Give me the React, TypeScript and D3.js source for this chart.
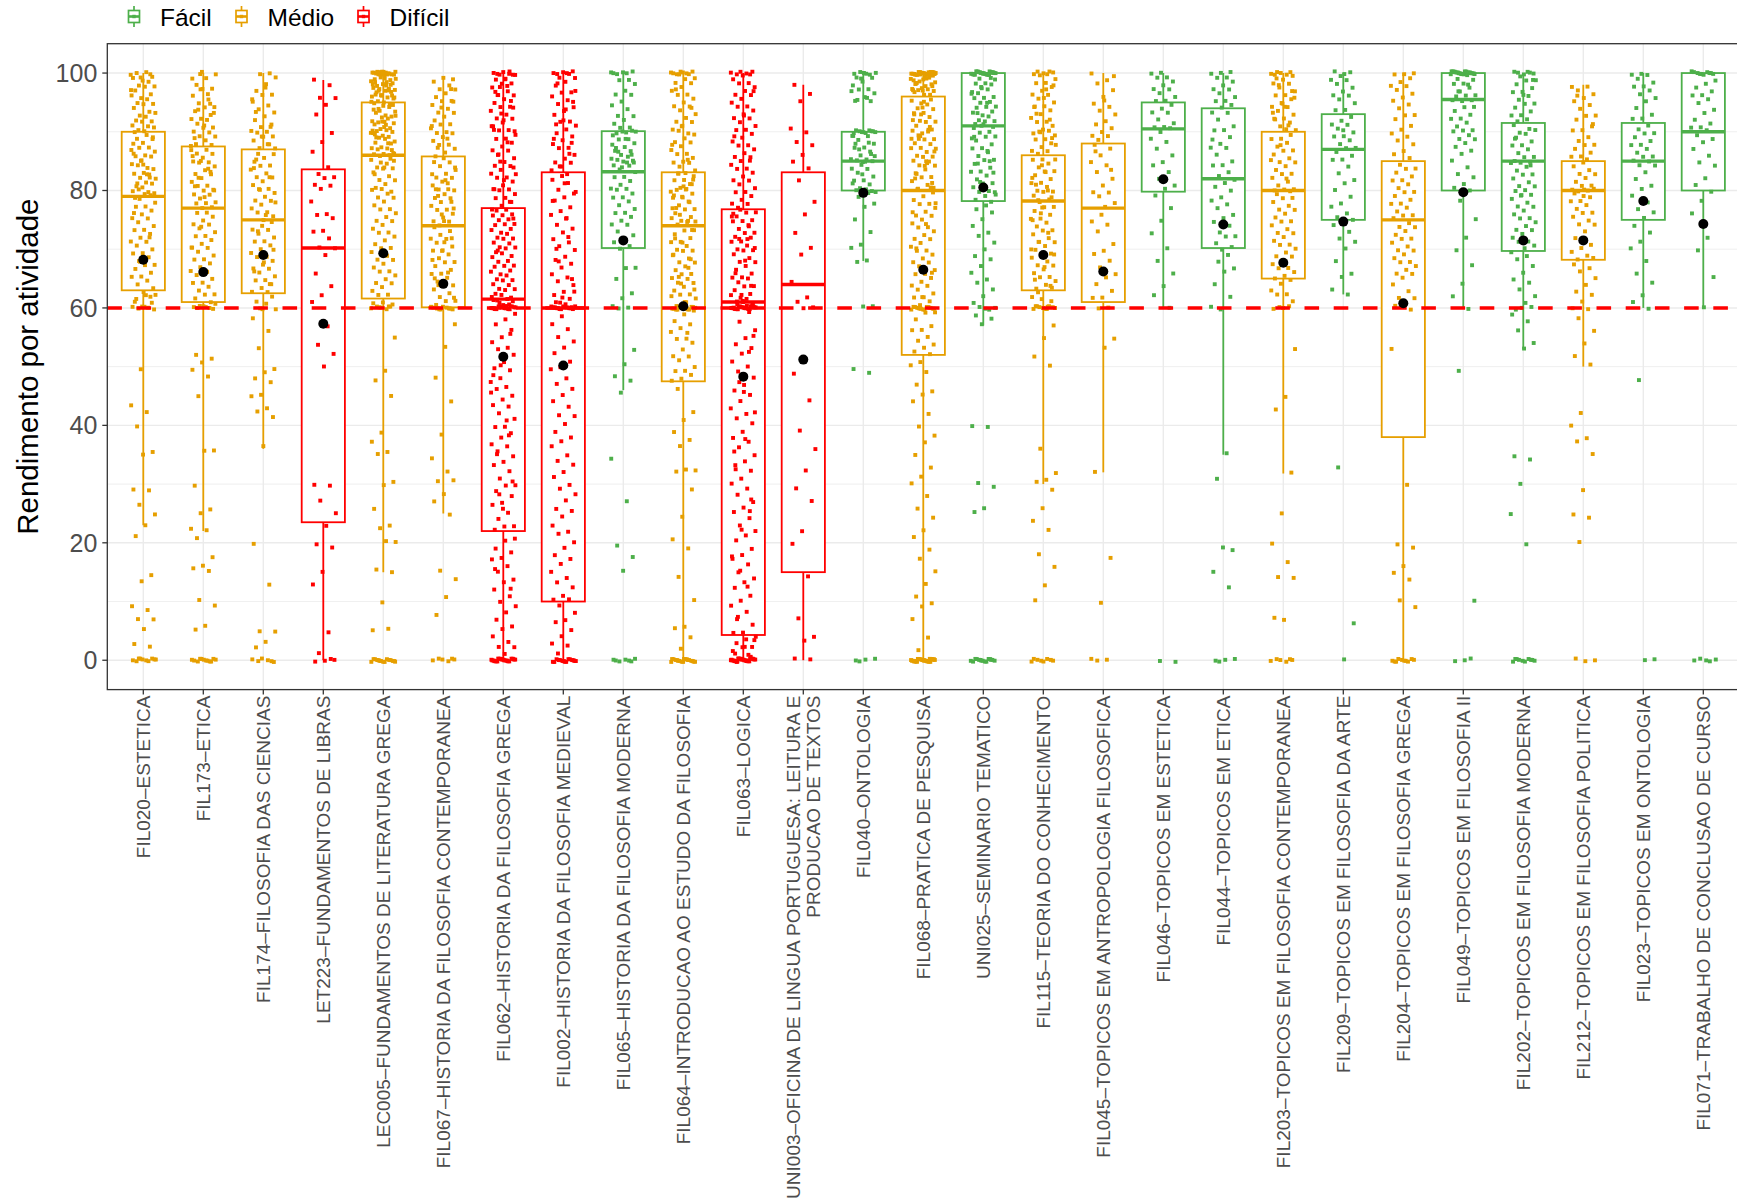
import React from "react";
import * as d3 from "d3";

const categories = [
  "FIL020–ESTETICA",
  "FIL173–ETICA",
  "FIL174–FILOSOFIA DAS CIENCIAS",
  "LET223–FUNDAMENTOS DE LIBRAS",
  "LEC005–FUNDAMENTOS DE LITERATURA GREGA",
  "FIL067–HISTORIA DA FILOSOFIA CONTEMPORANEA",
  "FIL062–HISTORIA DA FILOSOFIA GREGA",
  "FIL002–HISTORIA DA FILOSOFIA MEDIEVAL",
  "FIL065–HISTORIA DA FILOSOFIA MODERNA",
  "FIL064–INTRODUCAO AO ESTUDO DA FILOSOFIA",
  "FIL063–LOGICA",
  "UNI003–OFICINA DE LINGUA PORTUGUESA: LEITURA E\nPRODUCAO DE TEXTOS",
  "FIL040–ONTOLOGIA",
  "FIL068–PRATICA DE PESQUISA",
  "UNI025–SEMINARIO TEMATICO",
  "FIL115–TEORIA DO CONHECIMENTO",
  "FIL045–TOPICOS EM ANTROPOLOGIA FILOSOFICA",
  "FIL046–TOPICOS EM ESTETICA",
  "FIL044–TOPICOS EM ETICA",
  "FIL203–TOPICOS EM FILOSOFIA CONTEMPORANEA",
  "FIL209–TOPICOS EM FILOSOFIA DA ARTE",
  "FIL204–TOPICOS EM FILOSOFIA GREGA",
  "FIL049–TOPICOS EM FILOSOFIA II",
  "FIL202–TOPICOS EM FILOSOFIA MODERNA",
  "FIL212–TOPICOS EM FILOSOFIA POLITICA",
  "FIL023–TOPICOS EM ONTOLOGIA",
  "FIL071–TRABALHO DE CONCLUSAO DE CURSO",
];

const difficulty = [
  "Médio", "Médio", "Médio", "Difícil", "Médio", "Médio", "Difícil", "Difícil", "Fácil",
  "Médio", "Difícil", "Difícil", "Fácil", "Médio", "Fácil", "Médio", "Médio", "Fácil",
  "Fácil", "Médio", "Fácil", "Médio", "Fácil", "Fácil", "Médio", "Fácil", "Fácil",
];

const levels = ["Fácil", "Médio", "Difícil"];
const levelColors = ["#4DAF4A", "#E69F00", "#FF0000"];

const q3 = [90, 87.5, 87, 83.6, 95, 85.8, 77, 83.1, 90.1, 83.1, 76.8, 83.1, 90, 96, 100, 86, 88, 95, 94, 90, 93, 85, 100, 91.5, 85, 91.5, 100];
const medians = [79, 77, 75, 70.2, 86, 74, 61.5, 60, 83.2, 74, 61, 64, 85, 80, 91, 78.2, 77, 90.5, 82, 80, 87, 75, 95.5, 85, 80, 85, 90];
const q1 = [63, 61, 62.5, 23.5, 61.6, 60.1, 22, 10, 70.2, 47.5, 4.3, 15, 80, 52, 78.2, 63, 61, 79.8, 70.2, 65, 75, 38, 80, 69.7, 68.2, 75, 80];
const whiskerLow = [23, 22, 36, 0, 15, 25, 0, 0, 46, 0, 0, 0, 68, 0, 57, 30, 32, 60, 35, 31.8, 62.3, 0, 60, 53, 50, 60, 60];
const whiskerHigh = [100, 100, 100, 98.8, 100, 99, 100, 100, 100, 100, 100, 98, 100, 100, 100, 100, 100, 100, 100, 100, 100, 100, 100, 100, 98, 100, 100];
const means = [68.2, 66.1, 69, 57.3, 69.3, 64.1, 51.7, 50.2, 71.5, 60.3, 48.3, 51.2, 79.6, 66.5, 80.5, 69, 66.2, 81.9, 74.2, 67.7, 74.7, 60.8, 79.7, 71.5, 71.5, 78.2, 74.3];

const yTicks = [0, 20, 40, 60, 80, 100];
const yMinor = [10, 30, 50, 70, 90];
const threshold = 60;

const pFIL020 = [100,100,100,99.5,99,99,98.5,98,98,97.5,97,96.5,96,96,95.5,95,95,94.5,94,93.5,93,93,92.5,92,92,91.5,91,91,90.5,90.5,90,90,100,99,97,
89.5,89,88.5,88,88,87.5,87,86.5,86,86,85.5,85,84.5,84,84,83.5,83,83,82.5,82,82,81.5,81,81,80.5,80,80,80,79.5,79.5,79,79,85,87,83,81,89,84.5,86.5,82.5,
78.5,78,77.5,77,76.5,76,75.5,75,74.5,74,73.5,73,72.5,72,71.5,71,70.5,70,69.5,69,68.5,68,67.5,67,66.5,66,65.5,65,64.5,64,63.5,63,76,72,68,
62.5,62,61.5,61,60.5,60,60,60,60,60,61,62,
49.8,43.2,42.2,39.9,35.7,34.8,29,29,26.7,24.6,22.9,21.2,14.7,13.2,9.1,8.6,7.2,6.7,5.2,2.8,2.5,0,0,0,0,0,0,0,0,0,0];

const pFIL173 = [100,99.5,99,98,97.5,97,96,95.5,95,94.5,94,93.5,93,92.5,92,92,91.5,91,90.5,90,90,89.5,89,88.5,88,88,100,99,96.5,94,93,91,89,95,97,
87.5,87,86.5,86,85.5,85,85,84.5,84,83.5,83,82.5,82,81.5,81,80.5,80,80,79.5,79,78.5,78,78,77.5,77,77,86,84,82,80,79,81,83,85,87,
76.5,76,75.5,75,74.5,74,73.5,73,72.5,72,71.5,71,70.5,70,69.5,69,68.5,68,67.5,67,66.5,66,65.5,65,64.5,64,63.5,63,62.5,62,61.5,61,74,70,66,
60,60,60,60,60,60.5,61,60,
52,51.5,51,49.3,48.3,45.1,36,35.5,29.7,25.8,25.3,22.2,22.1,20.9,17.8,15.9,15.6,15.3,10.5,9.1,5.8,5.3,0,0,0,0,0,0,0,0,0,0,0,0];

const pFIL174 = [100,100,99,98,97,96.5,96,95,94.5,94,93,92.5,92,91,90.5,90,90,90,89.5,89,88.5,88,87.5,87,97.5,93.5,91.5,89,95.5,88,
86.5,86,85.5,85,84.5,84,83.5,83,82.5,82,81.5,81,80.5,80,79.5,79,78.5,78,77.5,77,76.5,76,75.5,75,84,82,80,78,76,85,
74.5,74,73.5,73,72.5,72,71.5,71,70.5,70,69.5,69,68.5,68,67.5,67,66.5,66,65.5,65,64.5,64,63.5,63,62.5,73,70,68,66,64,
60,60,60.5,61,62,60,
58,56,53.2,49.8,48.8,47.9,47.4,45.4,44.7,42.8,42.4,41.6,36.2,19.7,12.9,5.1,4.6,3,2.2,0,0,0,0,0,0];

const pLET223 = [98.8,98,96,95.5,94.5,93,90,88,86.5,84,83,82,82,81,81,80,78,76,76,75,73,73,72,70,70,69,66,64,62,61,57,54,52,50,30,30,27,25,23,20,19,15,13,5,1,0,0,0,0];

const pLEC005 = [100,100,100,100,100,100,100,100,100,100,100,100,99.5,99.5,99,99,99,98.5,98.5,98,98,98,97.5,97.5,97,97,97,96.5,96.5,96,96,96,95.5,95.5,95,95,95,100,99,98,97,96,99.8,98.2,97.3,96.8,95.8,99.2,98.7,97.8,96.2,95.2,100,100,
94.5,94.5,94,94,93.5,93.5,93,93,92.5,92.5,92,92,91.5,91.5,91,91,90.5,90.5,90,90,90,90,89.5,89.5,89,89,88.5,88.5,88,88,87.5,87.5,87,87,86.5,86.5,86,86,86,93,91,89,87,92,90,88,94,86.5,91.5,89.5,
85.5,85,85,84.5,84,84,83.5,83,82.5,82,81.5,81,80.5,80,80,80,79.5,79,78.5,78,77.5,77,76.5,76,75.5,75,74.5,74,73.5,73,72.5,72,71.5,71,70.5,70,69.5,69,68.5,68,67.5,67,66.5,66,65.5,65,64.5,64,63.5,63,62.5,62,85,84,83,
60,60,60,60,60,60.5,61,61,60,60,
55,49.5,47.4,44.9,38.8,37.4,35.2,35,30.4,30,25.5,22.8,22.5,20.3,20,15.3,15,10,5.4,5.2,0,0,0,0,0,0,0,0,0,0,0,0,0,0,0];

const pFIL067 = [99.2,99,98.5,98,97.5,97,96.5,96,95.5,95,94.5,94,93.5,93,92.5,92,91.5,91,90.5,90,90,89.5,89,88.5,88,87.5,87,86.5,86,97,94,91,89,87,95,
85.5,85,84.5,84,83.5,83,82.5,82,81.5,81,80.5,80,80,79.5,79,78.5,78,77.5,77,76.5,76,75.5,75,74.5,74,84,82,80,78,76,83,81,79,77,75,
73.5,73,72.5,72,71.5,71,70.5,70,69.5,69,68.5,68,67.5,67,66.5,66,65.5,65,64.5,64,63.5,63,62.5,62,61.5,61,60.5,72,70,68,66,64,62,71,65,
60,60,60,60,60,60,60,60,60,60,
57,53.3,48.2,44.3,38.2,34.3,32.2,30.7,30.4,28.2,27.1,25,15,13.7,10.8,7.9,0,0,0,0,0,0];

const pFIL062 = [100,100,100,100,100,100,99.5,99,99,98.5,98,97.5,97,96.5,96,95.5,95,94.5,94,93.5,93,92.5,92,91.5,91,90.5,90,90,99,97,95,93,91,98,96,94,92,90.5,100,97.5,
89.5,89,88.5,88,87.5,87,86.5,86,85.5,85,84.5,84,83.5,83,82.5,82,81.5,81,80.5,80,80,79.5,79,78.5,78,77.5,77,88,86,84,82,80,78,85,83,
76.5,76.5,76,76,75.5,75,75,74.5,74,74,73.5,73,73,72.5,72,72,71.5,71,71,70.5,70,70,69.5,69,69,68.5,68,68,67.5,67,67,66.5,66,66,65.5,65,65,64.5,64,64,63.5,63,63,62.5,62,62,61.8,61.6,70,75,
60,60,60,60,60,60,60,60,60,60,60,60,60,60,60,60,60,60,60.5,61,61,60.5,61.5,60.3,60.7,
59,58.2,57.5,56.1,55,54.3,53.5,52.8,52,50.9,50,49.2,48,47.5,46.8,46,45,44.5,43.7,43,42,41.2,40,39.5,38.6,38,37,36.2,35.5,34.8,34,33,32.1,31,30,29.5,28.7,28,27,26.2,25,24.1,23,22.5,22.1,55.6,50.4,45.3,40.7,35.1,30.6,25.5,48.4,38.3,28.4,
21,20.2,19,18.5,17.7,17,16,15.2,14,13.1,12,11,10.2,9,8.1,7,6,5.1,4,3.2,2.5,2,1,15.6,12.4,
0,0,0,0,0,0,0,0,0,0,0,0,0,0,0,0,0,0,0,0];

const pFIL002 = [100,100,100,100,100,100,99.5,99,98.5,98,97,96.5,96,95.5,95,94,93.5,93,92,91.5,91,90.5,90,89,88.5,88,87.5,87,86,85.5,85,84.5,84,83.5,83,98,95,92,89,86,84,97,94,91,88,
82.5,82,81,80,79.5,79,78,77,76.5,76,75,74,73.5,73,72,71,70.5,70,69,68,67.5,67,66,65,64.5,64,63,62,61.5,61,80,75,70,65,62,78,72,68,63,81,
60,60,60,60,60,60,60,60,60,60,60,60,60.5,61,60.3,
58.3,57.1,56.4,55.2,54,53.1,52.3,51,50.2,49.4,48,47.2,46.5,45,44.1,43.3,42,41.4,40.2,39,38.2,37.1,36.4,35,34.2,33.1,32,31.3,30.1,29,28.2,27.3,26,25.2,24.4,23,22.1,21.3,20,19.2,18.1,17,16.3,15.1,14.2,13,12.3,11,10.5,10.1,
9.2,8.1,7,6.2,5,4.1,3,2.2,1,
0,0,0,0,0,0,0,0,0,0,0,0,0,0,0];

const pFIL065 = [100,100,100,100,100,100,99,98.5,98,97,96.5,96,95,94.5,94,93,92.5,92,91.5,91,90.5,90,90,90,90,90,
89.5,89,88.5,88,87.5,87,86.5,86,85.5,85,85,85,85,84.5,84,83.5,83.2,89,87,86,84,88,85.5,86.5,84.8,
82.5,82,81.5,81,80.5,80,80,79.5,79,78.5,78,77.5,77,76.5,76,75.5,75,74.5,74,73,72.5,72,71,70.5,70.2,
67.1,66.6,64.9,62.6,61.9,60.1,60,60,
53.1,50.2,48.3,47.7,45.8,34.1,27,19.6,17.8,15,0,0,0,0,0,0,0];

const pFIL064 = [100,100,100,100,100,100,100,100,99.5,99,99,98.5,98,97.5,97,96.5,96,95.5,95,94.5,94,93.5,93,92.5,92,91.5,91,90.5,90,90,89.5,89,88.5,88,87.5,87,86.5,86,85.5,85,85,84.5,84,83.5,83.2,97,94,91,88,85,
82.8,82.5,82,81.5,81,80.5,80,80,80,79.5,79,78.5,78,77.5,77,76.5,76,75.5,75,75,74.5,74.2,82,81,79,78,76,75,80,77,81.2,79.2,76.8,74.8,83,
73.5,73,72.5,72,71.5,71,70.5,70,70,69.5,69,68.5,68,67.5,67,66.5,66,65.5,65,65,64.5,64,63.5,63,62.5,62,61.5,61,60.5,73,71,69,67,65,63,61,72,68,64,62,
60,60,60,60,60,60,60,60,60,60,60,60,60,60,60,
59.5,59,58,57,56.5,56,55,54.5,54,53,52,51.5,51,50,49.5,49,48.5,48,47.8,55.5,
46.1,42.3,41.1,38.6,37.4,36.5,32.5,32.2,32,29.1,24.6,20.3,18.9,14.2,10.4,6,5.3,3.9,2.1,0,0,0,0,0,0,0,0,0,0,0,0,0,0,0,0,0,0];

const pFIL063 = [100,100,100,100,100,100,99.5,99,98.5,98,97.5,97,96.5,96,95.5,95,94.5,94,93.5,93,92.5,92,91.5,91,90.5,90,89.5,89,88.5,88,87.5,87,86.5,86,85.5,85,84.5,84,83.5,83,82.5,82,81.5,81,80.5,80,79.5,79,78.5,78,77.5,77,97,93,89,85,
76.8,76.5,76,75.5,75,75,74.5,74,73.5,73,72.5,72,72,71.5,71,70.5,70,70,69.5,69,68.5,68,67.5,67,66.5,66,65.5,65,65,64.5,64,63.5,63,62.5,62,62,61.5,61.2,61,61,76,74,72,70,68,66,64,62,75.5,71.8,
60,60,60,60,60,60,60,60,60,60,60,60,60,60,60,60,60,60,60,60,60.5,60.3,60.7,61,60.2,
59,57.5,56.2,55,54.1,53,52.2,51,50.3,49,48.1,47,46.2,45,44.1,43,42.2,41,40.3,39,38.1,37,36.2,35,34.1,33,32.2,31,30.3,29,28.1,27,26.2,25,24.1,23,22.2,21,20.3,19,18.1,17,16.2,15,14.1,13,12.2,11,10.3,9,8.1,7,6.2,5,4.5,52.5,47.5,42.5,37.5,32.5,27.5,22.5,17.5,12.5,7.5,55.5,45.5,35.5,25.5,15.5,
3.8,3.5,3,2.5,2,1.5,1,0.5,3.2,2.2,1.2,0.8,
0,0,0,0,0,0,0,0,0,0,0,0,0,0,0,0,0,0,0,0,0,0,0,0,0];

const pUNI003 = [98.1,96.7,95,90.5,90,88.5,87.5,86,85,84,81.5,78,76,73,70,69,64.5,62,60.8,60,60,49,44,39,36,32.5,29,27,22,20,14,7,4,3.5,0,0];

const pFIL040 = [100,100,100,100,100,100,99.5,99,98.5,98,97.5,97,96.5,96,95.5,95,99,97,96,95.2,
90,90,90,90,90,90,90,90,90,90,89.5,89,88.5,88,87.5,87,86.5,86,85.5,85,85,85,85,89,88,87,86,85.2,87.8,86.2,
84.5,84,83.5,83,82.5,82,81.5,81,80.5,80,80,80,80,83,81,
79.5,79,78,77,75,73,71,70,68,67.9,
60.5,60,49.5,49,0,0,0,0];

const pFIL068 = [100,100,100,100,100,100,100,100,100,100,100,100,100,100,100,100,100,100,100,100,99.5,99.5,99,99,99,98.5,98.5,98,98,98,97.5,97.5,97,97,97,96.5,96.5,96.2,99.8,99.2,98.8,98.2,97.8,97.2,96.8,100,100,100,99,98,
95.5,95,95,94.5,94,94,93.5,93,92.5,92,92,91.5,91,90.5,90,90,90,89.5,89,88.5,88,88,87.5,87,86.5,86,86,85.5,85,85,84.5,84,83.5,83,82.5,82,81.5,81,80.5,80.2,95,93,91,89,87,85,83,81,94,92,90.5,88.5,86.5,84.2,82.2,80.8,92.8,88.8,84.8,80.5,
79.5,79,78.5,78,77.5,77,76.5,76,75.5,75,74.5,74,73.5,73,72.5,72,71.5,71,70.5,70,69.5,69,68.5,68,67.5,67,66.5,66,65.5,65,64.5,64,63.5,63,62.5,62,61.5,61,60.5,78,74,70,66,62,76,
60,60,60,60,60,60,60,60,60,60,60,60,60,60,60,
59.5,59,58,57,56.5,56,55,54.5,54,53,52.5,52.2,
51,50,49,47,46,45,44,42,40,38,37,35,33,31,30,28,26,24,22,21,19,17,15,13,11,10,9,7,4,2,
0,0,0,0,0,0,0,0,0,0,0,0,0,0,0,0,0,0,0,0,0,0,0,0,0];

const pUNI025 = [100,100,100,100,100,100,100,100,100,100,100,100,100,100,100,100,100,100,100,100,100,100,100,100,100,99.5,99,99,98.5,98,98,97.5,97,97,96.5,96,96,95.5,95,95,94.5,94,94,93.5,93,93,92.5,92,92,91.5,91.2,99.2,97.8,96.2,94.8,93.2,
91,91,90.5,90,90,89.5,89,88.5,88,87.5,87,86.5,86,85.5,85,84.5,84,83.5,83,82.5,82,81.5,81,80.5,80,80,79.5,79,78.5,78.3,90.8,88.8,86.8,84.8,82.8,80.8,89.2,85.2,81.2,79.2,
77.5,77,76,75,74,73,72,71,70,69,68,67,66,65,64,63,62,61,60,60,60,60,59,58,57.2,
40,40,30,29.5,26,25.5,0,0,0,0,0,0,0,0,0,0,0,0,0,0,0];

const pFIL115 = [100,100,100,100,100,100,99.5,99,98.5,98,97.5,97,96.5,96,95.5,95,94.5,94,93.5,93,92.5,92,91.5,91,90.5,90,90,90,89.5,89,88.5,88,87.5,87,86.5,86.2,98,96,94,92,90,88,97,93,89,
85.5,85,84.5,84,83.5,83,82.5,82,81.5,81,80.5,80,80,79.5,79,78.5,78.2,85,83,81,79,84,82,80,78.5,
77.5,77,76.5,76,75.5,75,74.5,74,73.5,73,72.5,72,71.5,71,70.5,70,69.5,69,68.5,68,67.5,67,66.5,66,65.5,65,64.5,64,63.5,63.2,77,75,73,71,69,67,65,63.5,76,70,
60,60,60,60,60,60,60,60,60,60,61,61.5,62,60.5,62.5,
57,55,52,50,36,32,31,30.2,29,26,24,22,18,16,13,10,0,0,0,0,0,0,0,0];

const pFIL045 = [100,99,98,97,96,95,94,93.5,93,92,91,90.5,90,89.5,89,88.5,99.5,95.5,
87.5,87,86,85,84,83,82,81,80,79.5,79,78,77.5,86.5,83.5,
76,75,74,73,71,70,69,68,67,66,65,64,63,62,61.5,
60,60,55,53,32,17.5,10,0,0,0];

const pFIL046 = [100,100,99.5,99,98.5,98,97.5,97,96.5,96,95.5,95,
94.5,94,93.5,93,92,91.5,91,90.5,90.5,90,89,88,87,86,85,84,83,82,81,80,
79,77,75,73,70,68,66,64,62,60,0,0];

const pFIL044 = [100,100,100,99.5,99,98.5,98,97.5,97,96.5,96,95.5,95,94.5,94.2,
93.5,93,92,91,90.5,90,89,88,87.5,87,86,85,84.5,84,83,82.5,82,81,80.5,80,79,78,77.5,77,76,75,74.5,74,73,72.5,72,71,70.5,70.2,88.5,
69,68,67,66,64,62,60,60,
35.2,31,19,19,15,12.5,0,0,0,0];

const pFIL203 = [100,100,100,100,100,100,99.5,99,98.5,98,97.5,97,96.5,96,95.5,95,94.5,94,93.5,93,92.5,92,91.5,91,90.5,90.2,99,97,95,93,91,98,96,94,92,
89.5,89,88.5,88,87.5,87,86.5,86,85.5,85,84.5,84,83.5,83,82.5,82,81.5,81,80.5,80,80,80,88,85,82,
79.5,79,78.5,78,77.5,77,76.5,76,75.5,75,74.5,74,73.5,73,72.5,72,71.5,71,70.5,70,69.5,69,68.5,68,67.5,67,66.5,66,65.5,65.2,
64.5,64,63,62.5,62,61,60,60,60,60,
53,45,43,31.8,25,20,17,14,14,7,7.5,0,0,0,0,0,0];

const pFIL209 = [100,100,100,99.5,99,98.5,98,97.5,97,96.5,96,95.5,95,94,93.5,
92.5,92,91.5,91,90.5,90,89.5,89,88.5,88,87.5,87,86.5,86,85.5,85,84,83,82,81,80,79,78,77,76,75.5,75.2,90,
74,73,72,71,70,68,66,65,63,62.3,
33,6,0];

const pFIL204 = [100,100,99.5,99,98.5,98,97.5,97,96.5,96,95,94.5,94,93,92.5,92,91,90.5,90,89,88.5,88,87,86,85.5,
84.5,84,83.5,83,82.5,82,81.5,81,80.5,80,79.5,79,78.5,78,77.5,77,76.5,76,75.5,75.2,
74.5,74,73.5,73,72.5,72,71.5,71,70.5,70,69.5,69,68.5,68,67.5,67,66.5,66,65.5,65,64,63,62,61.5,61,60.5,60,60,
53,30,20,19,16,15,14,10,9,0,0,0,0,0,0,0,0,0,0];

const pFIL049 = [100,100,100,100,100,100,100,100,100,100,100,100,100,100,100,100,100,100,100,100,
99.5,99,99,98.5,98,97.5,97,96.5,96,96,95.5,95.5,95.2,98,97,
94.5,94,93.5,93,92.5,92,91.5,91,90.5,90,90,89.5,89,88.5,88,87.5,87,86,85,84,83,82,81,80.5,80.2,
78,75,72,70,67,64,62,60,
49,10,0,0,0];

const pFIL202 = [100,100,100,100,100,100,99.5,99,98.5,98,97.5,97,96.5,96,95.5,95,94.5,94,93.5,93,92.5,92,91.8,99,96,
91,90.5,90,90,89.5,89,88.5,88,87.5,87,86.5,86,85.5,85,85,85,84.5,84,83.5,83,82.5,82,81.5,81,80.5,80,80,79.5,79,78.5,78,77.5,77,76.5,76,75.5,75,74.5,74,73.5,73,72.5,72,71.5,71,70.5,70.2,89,84,79,
69.5,69,68,67,66,65,64,63,62,61,60,60,60,59,58,56,54,53.2,
35,34,30,25,20,0,0,0,0,0,0,0,0,0,0];

const pFIL212 = [97.9,97.5,97,96.5,96,95,94.5,94,93,92.5,92,91,90.5,90,89,88.5,88,87.5,87,86.5,86,85.5,85.2,96.2,91.5,
84.5,84,83.5,83,82.5,82,81.5,81,80.5,80,80,80,80,80,79.5,79,78.5,78,77.5,77,76.5,76,75.5,75,74.5,74,73,72,71,70,69.5,69,68.5,68.3,79,
67.5,67,66,65,64,63,62,61,60,60,58,56,54,52,50.1,
42,40,38,37,35,29,25,24,20,0,0,0];

const pFIL023 = [100,100,99.5,99,98.5,98,97.5,97,96.5,96,95,94,93,92.5,92,
91,90.5,90,89.5,89,88.5,88,87.5,87,86.5,86,85.5,85,85,84.5,84,83,82,81,80,79,78,77,76,75.2,
74,73,71,70,68,66,64,62,61,60,
48,0,0];

const pFIL071 = [100,100,100,100,100,100,100,100,100,100,
99,98,97.5,97,96.5,96,95.5,95,94,93,92,91.5,91,90.5,90.2,
89.5,89,88,87,86,85,84,82,81,80,
78,76,72,70,65,60,
0,0,0,0,0];

const pointsByCategory = [
  pFIL020, pFIL173, pFIL174, pLET223, pLEC005, pFIL067, pFIL062, pFIL002, pFIL065,
  pFIL064, pFIL063, pUNI003, pFIL040, pFIL068, pUNI025, pFIL115, pFIL045, pFIL046,
  pFIL044, pFIL203, pFIL209, pFIL204, pFIL049, pFIL202, pFIL212, pFIL023, pFIL071,
];

const W = 1737;
const H = 1201;
const panel = { left: 107.3, right: 1739.3, top: 43.7, bottom: 689.6 };
const FONT = "'Liberation Sans', Arial, Helvetica, sans-serif";
const PT = 3.9;

function frac(v: number) {
  return v - Math.floor(v);
}

export default function App() {
  const x = d3.scalePoint<string>().domain(categories).range([panel.left, panel.right]).padding(0.6);
  const y = d3.scaleLinear().domain([-5, 105]).range([panel.bottom, panel.top]);
  const color = d3.scaleOrdinal<string, string>().domain(levels).range(levelColors);
  const step = x.step();
  const boxHalf = step * 0.36;
  const jitterW = step * 0.21;

  return (
    <svg width={W} height={H} style={{ position: "absolute", left: 0, top: 0, background: "#fff" }} fontFamily={FONT}>
      <rect x={0} y={0} width={W} height={H} fill="#fff" />
      <defs>
        <clipPath id="panelClip">
          <rect x={panel.left} y={panel.top} width={panel.right - panel.left} height={panel.bottom - panel.top} />
        </clipPath>
      </defs>
      <g>
        {yMinor.map((t) => (
          <line key={"mn" + t} x1={panel.left} x2={panel.right} y1={y(t)} y2={y(t)} stroke="#EBEBEB" strokeWidth={0.8} />
        ))}
        {yTicks.map((t) => (
          <line key={"mj" + t} x1={panel.left} x2={panel.right} y1={y(t)} y2={y(t)} stroke="#EBEBEB" strokeWidth={1.4} />
        ))}
        {categories.map((c) => (
          <line key={"vg" + c} x1={x(c)} x2={x(c)} y1={panel.top} y2={panel.bottom} stroke="#EBEBEB" strokeWidth={1.4} />
        ))}
      </g>
      <g clipPath="url(#panelClip)">
        {categories.map((c, i) => {
          const cx = x(c) as number;
          const col = color(difficulty[i]);
          return (
            <g key={"box" + i} stroke={col} strokeWidth={1.8} fill="none">
              <line x1={cx} x2={cx} y1={y(q3[i])} y2={y(whiskerHigh[i])} />
              <line x1={cx} x2={cx} y1={y(q1[i])} y2={y(whiskerLow[i])} />
              <rect x={cx - boxHalf} y={y(q3[i])} width={boxHalf * 2} height={y(q1[i]) - y(q3[i])} fill="#fff" />
              <line x1={cx - boxHalf} x2={cx + boxHalf} y1={y(medians[i])} y2={y(medians[i])} strokeWidth={3.4} />
            </g>
          );
        })}
      </g>
      <g clipPath="url(#panelClip)">
        {pointsByCategory.map((pts, i) => {
          const cx = x(categories[i]) as number;
          const col = color(difficulty[i]);
          return (
            <g key={"pts" + i} fill={col}>
              {pts.map((v, j) => {
                const dx = (frac(j * 0.6180339 + i * 0.377) - 0.5) * 2 * jitterW;
                const dy = (frac(j * 0.7548777 + i * 0.211) - 0.5) * 0.6;
                const px = cx + dx;
                const py = y(v + dy);
                return <rect key={j} x={px - PT / 2} y={py - PT / 2} width={PT} height={PT} />;
              })}
            </g>
          );
        })}
      </g>
      <line
        x1={panel.left}
        x2={panel.right}
        y1={y(threshold)}
        y2={y(threshold)}
        stroke="#FF0000"
        strokeWidth={3.4}
        strokeDasharray="14.6 14.6"
      />
      <g>
        {categories.map((c, i) => (
          <circle key={"m" + i} cx={x(c) as number} cy={y(means[i])} r={5} fill="#000" />
        ))}
      </g>
      <rect
        x={panel.left}
        y={panel.top}
        width={panel.right - panel.left}
        height={panel.bottom - panel.top}
        fill="none"
        stroke="#333333"
        strokeWidth={1.3}
      />
      <g>
        {yTicks.map((t) => (
          <g key={"yt" + t}>
            <line x1={panel.left - 5} x2={panel.left} y1={y(t)} y2={y(t)} stroke="#333333" strokeWidth={1.3} />
            <text x={panel.left - 10} y={y(t)} dy="0.36em" textAnchor="end" fontSize={25} fill="#4D4D4D">
              {t}
            </text>
          </g>
        ))}
        <text
          transform={`translate(38.3, ${(panel.top + panel.bottom) / 2}) rotate(-90)`}
          textAnchor="middle"
          fontSize={29.5}
          fill="#000"
        >
          Rendimento por atividade
        </text>
      </g>
      <g>
        {categories.map((c, i) => {
          const cx = x(c) as number;
          const lines = c.split("\n");
          const n = lines.length;
          const lh = 20.5;
          return (
            <g key={"xt" + i}>
              <line x1={cx} x2={cx} y1={panel.bottom} y2={panel.bottom + 5} stroke="#333333" strokeWidth={1.3} />
              {lines.map((ln, k) => {
                const off = (k - (n - 1) / 2) * lh;
                return (
                  <text
                    key={k}
                    transform={`translate(${cx + off}, ${panel.bottom + 6}) rotate(-90)`}
                    textAnchor="end"
                    dy="0.35em"
                    fontSize={19}
                    fill="#4D4D4D"
                  >
                    {ln}
                  </text>
                );
              })}
            </g>
          );
        })}
      </g>
      <g>
        {levels.map((lv, k) => {
          const keyX = [134, 241.5, 363.5][k];
          const col = levelColors[k];
          return (
            <g key={"lg" + lv}>
              <line x1={keyX} x2={keyX} y1={6} y2={27} stroke={col} strokeWidth={1.7} />
              <rect x={keyX - 5.5} y={10.5} width={11} height={12} fill="#fff" stroke={col} strokeWidth={1.7} />
              <line x1={keyX - 5.5} x2={keyX + 5.5} y1={16.5} y2={16.5} stroke={col} strokeWidth={2.6} />
              <rect x={keyX - 1.7} y={14.8} width={3.4} height={3.4} fill={col} />
              <text x={keyX + 26} y={26} fontSize={24.5} fill="#000">
                {lv}
              </text>
            </g>
          );
        })}
      </g>
    </svg>
  );
}
